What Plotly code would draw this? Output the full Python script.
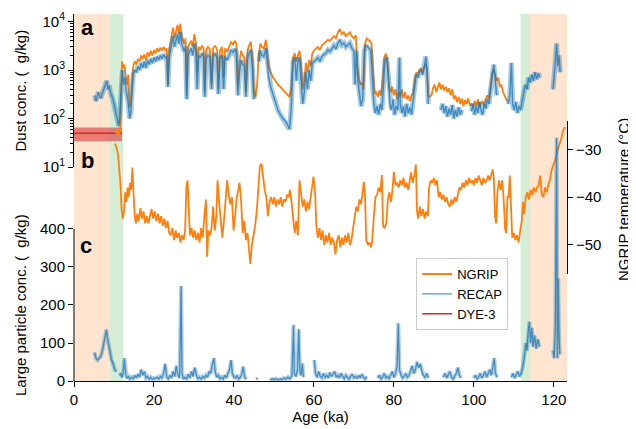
import plotly.graph_objects as go

# ---------------- data ----------------
ngrip_dust_age = [10.4, 10.7, 11.0, 11.3, 11.6, 11.8, 12.0, 12.3, 12.6, 13.0, 13.3, 13.6, 13.9, 14.2, 14.5, 14.8, 15.2, 15.6, 16.0, 16.4, 16.8, 17.2, 17.6, 18.0, 18.4, 18.8, 19.2, 19.6, 20.0, 20.4, 20.8, 21.2, 21.6, 22.0, 22.4, 22.8, 23.2, 23.5, 23.8, 24.1, 24.4, 24.8, 25.1, 25.5, 25.9, 26.2, 26.6, 26.9, 27.3, 27.6, 27.9, 28.2, 28.5, 28.9, 29.3, 29.7, 30.1, 30.5, 30.8, 31.2, 31.6, 32.0, 32.4, 32.7, 33.0, 33.5, 34.0, 34.4, 34.8, 35.3, 35.8, 36.1, 36.5, 37.0, 37.4, 37.8, 38.3, 38.8, 39.3, 39.8, 40.2, 40.6, 41.0, 41.4, 41.8, 42.2, 42.6, 43.0, 43.4, 43.8, 44.2, 44.6, 45.0, 45.4, 45.8, 46.2, 46.6, 47.0, 47.5, 48.0, 48.3, 48.7, 49.2, 49.8, 50.4, 51.0, 51.6, 52.2, 52.8, 53.4, 53.9, 54.3, 54.8, 55.2, 55.6, 56.0, 56.4, 56.8, 57.2, 57.6, 58.0, 58.4, 58.8, 59.2, 59.6, 60.0, 60.5, 61.0, 61.5, 62.0, 62.5, 63.0, 63.5, 64.0, 64.5, 65.0, 65.5, 66.0, 66.5, 67.0, 67.5, 68.0, 68.5, 69.0, 69.5, 70.0, 70.5, 70.8, 71.2, 71.6, 72.0, 72.4, 72.8, 73.2, 73.6, 74.0, 74.4, 74.8, 75.2, 75.6, 76.0, 76.4, 76.8, 77.2, 77.6, 78.0, 78.4, 78.8, 79.2, 79.6, 80.0, 80.4, 80.8, 81.2, 81.6, 82.0, 82.4, 82.8, 83.2, 83.6, 84.0, 84.4, 84.8, 85.2, 85.6, 86.0, 86.4, 86.8, 87.2, 87.6, 88.0, 88.3, 88.6, 89.0, 89.4, 89.8, 90.2, 90.6, 91.0, 91.4, 91.8, 92.2, 92.6, 93.0, 93.4, 93.8, 94.2, 94.6, 95.0, 95.4, 95.8, 96.2, 96.6, 97.0, 97.4, 97.8, 98.2, 98.6, 99.0, 99.4, 99.8, 100.2, 100.6, 101.0, 101.4, 101.8, 102.2, 102.6, 103.0, 103.4, 103.8, 104.2, 104.6, 105.0, 105.3, 105.7, 106.1, 106.5, 106.9, 107.3, 107.7, 108.1, 108.5]
ngrip_dust = [55, 48, 62, 45, 70, 300, 1500, 1100, 1300, 700, 500, 800, 170, 200, 600, 1200, 1500, 1300, 1700, 1500, 2000, 1700, 2100, 1600, 2300, 1900, 2500, 2000, 2600, 2200, 2800, 2400, 2900, 2500, 3000, 2600, 2800, 500, 2600, 3500, 5000, 7500, 4500, 6000, 8500, 5500, 9000, 5000, 4000, 3500, 4500, 300, 3000, 3500, 4000, 3000, 5500, 3500, 900, 3000, 2600, 3200, 2800, 350, 2500, 3000, 2700, 500, 2800, 3200, 2600, 400, 2500, 3000, 700, 2800, 2400, 3000, 3800, 3400, 4000, 3500, 450, 1500, 2500, 2000, 1800, 350, 2600, 3200, 3800, 2000, 350, 280, 500, 2000, 3500, 3000, 2800, 4200, 2500, 1200, 900, 700, 600, 500, 450, 400, 350, 320, 280, 400, 1800, 2200, 1500, 2000, 2500, 1200, 400, 600, 1400, 900, 1600, 1200, 2200, 2500, 2700, 3000, 2600, 3200, 3500, 3800, 4200, 4000, 4500, 5000, 4500, 6000, 7000, 5500, 6000, 5000, 5500, 6000, 5000, 4500, 5200, 1500, 700, 500, 550, 400, 3500, 4500, 4200, 4000, 3500, 800, 330, 350, 280, 380, 300, 600, 1800, 2200, 1500, 450, 350, 450, 300, 400, 250, 350, 280, 400, 260, 350, 250, 300, 230, 300, 330, 600, 900, 800, 1000, 1100, 900, 1200, 1300, 1000, 300, 280, 300, 420, 500, 350, 450, 550, 400, 500, 380, 450, 350, 420, 300, 400, 250, 300, 220, 280, 200, 260, 180, 240, 200, 260, 190, 200, 170, 230, 180, 250, 170, 210, 230, 180, 260, 300, 250, 500, 900, 1000, 800, 600, 700, 450, 500, 350, 300, 250, 230]

recap_dust_age = [5.2, 5.5, 5.8, 6.1, 6.4, 6.7, 7.0, 7.3, 7.6, 7.9, 8.2, 8.5, 8.8, 9.1, 9.4, 9.7, 10.0, 10.3, 10.6, 10.9, 11.2, 11.5, 11.8, 12.1, 12.4, 12.7, 13.0, 13.3, 13.6, 13.9, 14.2, 14.5, 14.8, 15.2, 15.6, 16.0, 16.4, 16.8, 17.2, 17.6, 18.0, 18.4, 18.8, 19.2, 19.6, 20.0, 20.4, 20.8, 21.2, 21.6, 22.0, 22.4, 22.8, 23.2, 23.5, 23.8, 24.1, 24.4, 24.8, 25.1, 25.5, 25.9, 26.2, 26.6, 26.9, 27.3, 27.6, 27.9, 28.2, 28.5, 28.9, 29.3, 29.7, 30.1, 30.5, 30.8, 31.2, 31.6, 32.0, 32.4, 32.7, 33.0, 33.5, 34.0, 34.4, 34.8, 35.3, 35.8, 36.1, 36.5, 37.0, 37.4, 37.8, 38.3, 38.8, 39.3, 39.8, 40.2, 40.6, 41.0, 41.4, 41.8, 42.2, 42.6, 43.0, 43.4, 43.8, 44.2, 44.6, 45.0, 45.3, 45.7, 46.0, 46.3, 46.6, 47.0, 47.5, 48.0, 48.3, 48.7, 49.2, 49.8, 50.4, 51.0, 51.6, 52.2, 52.8, 53.4, 53.9, 54.3, 54.8, 55.2, 55.6, 56.0, 56.4, 56.8, 57.2, 57.6, 58.0, 58.4, 58.8, 59.2, 59.6, 60.0, 60.5, 61.0, 61.5, 62.0, 62.5, 63.0, 63.5, 64.0, 64.5, 65.0, 65.5, 66.0, 66.5, 67.0, 67.5, 68.0, 68.5, 69.0, 69.5, 70.0, 70.3, 70.6, 71.0, 71.4, 71.8, 72.2, 72.6, 73.0, 73.4, 73.8, 74.2, 74.6, 75.0, 75.4, 75.8, 76.2, 76.6, 77.0, 77.4, 77.8, 78.2, 78.6, 79.0, 79.4, 79.8, 80.2, 80.6, 81.0, 81.4, 81.6, 82.0, 82.4, 82.8, 83.2, 83.6, 84.0, 84.4, 84.8, 85.2, 85.6, 86.0, 86.4, 86.8, 87.2, 87.6, 88.0, 88.3, 88.6, 88.8, 91.8, 92.2, 92.6, 93.0, 93.4, 93.8, 94.2, 94.6, 95.0, 95.4, 95.8, 96.2, 96.6, 97.0, 97.3, 99.4, 99.8, 100.2, 100.6, 101.0, 101.4, 101.8, 102.2, 102.6, 103.0, 103.4, 103.8, 104.2, 104.6, 105.0, 105.3, 105.7, 105.9, 108.6, 109.0, 109.4, 109.7, 110.1, 110.5, 110.9, 111.3, 111.7, 112.1, 112.5, 112.9, 113.3, 113.7, 114.1, 114.5, 114.9, 115.3, 115.7, 116.1, 116.5, 116.7, 119.8, 120.1, 120.4, 120.7, 121.0, 121.3, 121.6]
recap_dust = [300, 230, 280, 350, 300, 260, 320, 380, 450, 520, 600, 400, 480, 350, 300, 260, 200, 150, 120, 80, 70, 140, 450, 1000, 500, 700, 400, 300, 200, 100, 130, 350, 800, 1000, 900, 1200, 1000, 1400, 1100, 1500, 1100, 1600, 1300, 1700, 1400, 1800, 1500, 1900, 1600, 2000, 1700, 2100, 1800, 1900, 450, 1800, 2500, 3500, 5000, 3000, 4000, 5500, 3500, 6000, 3500, 2800, 2400, 3000, 250, 2000, 2500, 2800, 2000, 3500, 2400, 400, 2000, 1800, 2200, 1900, 280, 1700, 2000, 1800, 400, 1900, 2200, 1700, 320, 1700, 2000, 400, 1900, 1600, 2000, 2600, 2300, 2700, 2400, 300, 900, 1600, 1300, 1200, 280, 1700, 2200, 2600, 1200, 250, None, 170, None, 1500, 2500, 2000, 1900, 2800, 1600, 700, 450, 300, 200, 150, 120, 100, 90, 75, 60, 150, 1500, 1800, 600, 1500, 1800, 500, 200, 350, 900, 400, 1000, 600, 1400, 1500, 1600, 1800, 1500, 1900, 2100, 2200, 2600, 2400, 2800, 3200, 2700, 3600, 4200, 3300, 3600, 3000, 3300, 3600, 2800, 2500, 500, 2500, 600, 300, 180, 250, 2500, 3200, 3000, 2800, 2500, 500, 200, 130, 180, 120, 200, 150, 500, 1600, 1800, 800, 200, 150, 250, 120, 180, 150, 1800, 200, 130, 180, 110, 200, 130, 170, 120, 220, 500, 800, 700, 900, 1000, 800, 1100, 1900, 900, 200, None, 150, 200, 130, 180, 110, 160, 120, 190, 100, 150, 110, 170, 120, 150, None, 140, 200, 120, 180, 130, 220, 150, 120, 200, 160, 250, 200, 400, 800, 1300, 700, 300, None, 200, 300, 1400, 200, 150, 220, 130, 180, 150, 250, 350, 500, 400, 700, 550, 800, 600, 900, 650, 850, 700, None, 400, 700, 1500, 3500, 1200, 2000, 900]

ngrip_temp_age = [10.2, 10.6, 11.0, 11.3, 11.6, 11.9, 12.2, 12.5, 12.8, 13.1, 13.4, 13.7, 14.0, 14.3, 14.6, 14.9, 15.2, 15.5, 15.8, 16.2, 16.6, 17.0, 17.4, 17.8, 18.2, 18.6, 19.0, 19.4, 19.8, 20.2, 20.6, 21.0, 21.4, 21.8, 22.2, 22.6, 23.0, 23.4, 23.8, 24.2, 24.6, 25.0, 25.4, 25.8, 26.2, 26.6, 27.0, 27.4, 27.8, 28.1, 28.4, 28.7, 29.0, 29.4, 29.8, 30.2, 30.6, 31.0, 31.4, 31.8, 32.2, 32.6, 33.0, 33.3, 33.6, 34.0, 34.4, 34.8, 35.2, 35.6, 35.9, 36.3, 36.7, 37.1, 37.5, 37.9, 38.3, 38.7, 39.1, 39.5, 39.9, 40.3, 40.7, 41.1, 41.4, 41.8, 42.2, 42.6, 43.0, 43.4, 43.8, 44.1, 44.5, 44.9, 45.3, 45.7, 46.1, 46.5, 46.9, 47.3, 47.7, 48.1, 48.5, 48.9, 49.3, 49.7, 50.1, 50.5, 50.9, 51.3, 51.7, 52.1, 52.5, 52.9, 53.3, 53.7, 54.0, 54.4, 54.8, 55.2, 55.6, 56.0, 56.4, 56.8, 57.2, 57.6, 58.0, 58.4, 58.8, 59.2, 59.6, 59.9, 60.3, 60.6, 61.0, 61.4, 61.8, 62.2, 62.6, 63.0, 63.4, 63.8, 64.2, 64.6, 65.0, 65.4, 65.8, 66.2, 66.6, 67.0, 67.4, 67.8, 68.2, 68.6, 69.0, 69.4, 69.8, 70.2, 70.6, 71.0, 71.4, 71.8, 72.2, 72.5, 72.8, 73.1, 73.5, 73.9, 74.3, 74.6, 75.0, 75.4, 75.8, 76.2, 76.6, 77.0, 77.3, 77.7, 78.1, 78.5, 78.9, 79.3, 79.7, 80.0, 80.4, 80.8, 81.2, 81.6, 82.0, 82.4, 82.8, 83.2, 83.6, 84.0, 84.3, 84.7, 85.1, 85.5, 85.8, 86.1, 86.5, 86.9, 87.3, 87.7, 88.1, 88.5, 88.8, 89.2, 89.6, 90.0, 90.4, 90.8, 91.2, 91.6, 92.0, 92.4, 92.8, 93.2, 93.6, 94.0, 94.4, 94.8, 95.2, 95.6, 96.0, 96.4, 96.8, 97.2, 97.6, 98.0, 98.4, 98.8, 99.2, 99.6, 100.0, 100.4, 100.8, 101.2, 101.6, 102.0, 102.4, 102.8, 103.2, 103.6, 104.0, 104.4, 104.7, 105.0, 105.3, 105.6, 105.9, 106.3, 106.7, 107.1, 107.5, 107.8, 108.1, 108.4, 108.7, 109.0, 109.3, 109.6, 110.0, 110.4, 110.8, 111.2, 111.6, 112.0, 112.3, 112.6, 113.0, 113.4, 113.8, 114.2, 114.6, 115.0, 115.4, 115.8, 116.2, 116.6, 117.0, 117.4, 117.8, 118.2, 118.6, 119.0, 119.4, 119.8, 120.2, 120.6, 121.0, 121.4, 121.8, 122.2, 122.6, 123.0]
ngrip_temp = [-28.8, -29.5, -31.0, -33.5, -37.0, -42.5, -44.5, -43.0, -39.0, -41.0, -38.0, -40.0, -37.0, -38.5, -33.8, -39.5, -44.0, -45.5, -43.5, -45.0, -42.3, -44.5, -43.0, -45.5, -44.0, -45.5, -44.0, -42.5, -44.5, -43.0, -45.0, -43.5, -45.5, -44.0, -46.0, -44.5, -46.5, -45.0, -47.5, -48.0, -46.5, -49.0, -47.0, -48.5, -47.5, -49.5, -48.0, -49.0, -47.0, -38.0, -36.5, -44.0, -48.0, -46.5, -48.5, -47.0, -49.0, -47.5, -49.5, -46.5, -48.5, -44.0, -40.5, -52.5, -47.0, -48.0, -46.5, -42.0, -47.0, -44.0, -36.5, -41.0, -45.0, -48.5, -45.0, -40.0, -36.5, -39.5, -41.5, -40.0, -47.0, -44.0, -40.0, -38.5, -37.0, -41.0, -47.5, -45.0, -49.0, -47.5, -50.5, -54.0, -50.0, -48.0, -46.0, -43.0, -38.0, -33.5, -33.0, -36.0, -38.5, -40.0, -44.0, -41.0, -40.0, -41.5, -40.0, -42.0, -40.5, -41.5, -40.0, -42.0, -40.5, -41.0, -39.5, -40.0, -38.5, -41.0, -44.0, -47.5, -45.0, -48.0, -36.5, -40.0, -42.0, -40.5, -43.0, -41.0, -42.5, -40.0, -38.0, -35.7, -39.0, -46.0, -48.5, -46.5, -49.0, -47.0, -50.0, -48.0, -49.5, -47.5, -50.0, -48.5, -49.5, -52.0, -49.0, -48.0, -50.5, -48.5, -50.0, -48.0, -49.5, -47.5, -50.0, -49.0, -46.5, -44.0, -42.0, -43.0, -40.5, -41.5, -39.0, -36.8, -40.0, -49.0, -50.0, -49.5, -50.5, -49.0, -44.0, -40.0, -39.5, -38.0, -39.0, -35.4, -46.0, -46.5, -45.5, -40.5, -39.0, -41.0, -38.0, -34.7, -37.5, -37.0, -38.0, -36.5, -37.5, -36.0, -38.0, -37.0, -38.5, -36.5, -34.8, -37.0, -35.5, -33.2, -43.0, -44.5, -42.0, -44.0, -42.5, -44.5, -43.0, -44.0, -38.0, -36.5, -37.0, -36.0, -37.5, -36.5, -40.0, -39.0, -40.5, -39.5, -41.0, -40.0, -41.5, -42.0, -40.5, -41.5, -40.0, -41.0, -39.5, -38.0, -38.5, -37.0, -38.0, -36.5, -37.5, -36.0, -37.0, -36.5, -37.5, -36.0, -37.0, -35.5, -36.5, -37.5, -36.0, -37.0, -36.5, -35.5, -36.5, -35.0, -34.2, -36.0, -44.0, -45.5, -39.0, -36.5, -38.5, -36.5, -41.0, -46.5, -47.5, -40.0, -40.0, -35.5, -43.0, -48.5, -47.5, -49.0, -48.0, -49.5, -47.0, -45.0, -41.0, -43.5, -40.0, -39.0, -40.5, -38.5, -39.5, -38.0, -39.0, -38.0, -37.5, -35.5, -39.5, -40.0, -38.0, -39.0, -37.5, -36.5, -34.5, -33.5, -32.5, -31.5, -30.0, -29.0, -28.0, -26.5, -25.5, -25.5]

recap_lp_age = [5.1, 5.5, 5.9, 6.3, 6.7, 7.1, 7.5, 7.8, 8.1, 8.4, 8.7, 9.0, 9.4, 9.8, 10.2, 10.6, 11.0, 11.4, 11.7, 12.0, 12.3, 12.6, 12.9, 13.2, 13.6, 14.0, 14.4, 14.8, 15.2, 15.6, 16.0, 16.4, 16.8, 17.2, 17.6, 18.0, 18.4, 18.8, 19.2, 19.6, 20.0, 20.4, 20.8, 21.2, 21.6, 22.0, 22.4, 22.8, 23.2, 23.6, 24.0, 24.4, 24.8, 25.2, 25.6, 26.0, 26.4, 26.8, 27.0, 27.4, 27.8, 28.2, 28.6, 29.0, 29.4, 29.8, 30.2, 30.6, 31.0, 31.4, 31.8, 32.2, 32.6, 33.0, 33.4, 33.8, 34.2, 34.6, 35.0, 35.3, 35.7, 36.1, 36.5, 36.9, 37.3, 37.7, 38.1, 38.5, 38.9, 39.3, 39.6, 40.0, 40.4, 40.8, 41.2, 41.6, 42.0, 42.3, 42.7, 43.1, 43.4, 45.6, 45.9, 46.2, 49.0, 49.5, 50.0, 50.5, 51.0, 51.5, 52.0, 52.5, 53.0, 53.5, 54.0, 54.5, 54.9, 55.1, 55.5, 55.9, 56.2, 56.5, 56.8, 57.1, 57.4, 57.6, 60.1, 60.4, 60.8, 61.2, 61.6, 62.0, 62.4, 62.8, 63.2, 63.6, 64.0, 64.4, 64.8, 65.2, 65.6, 66.0, 66.4, 66.8, 67.2, 67.6, 68.0, 68.4, 68.8, 69.2, 69.6, 70.0, 70.4, 70.8, 71.2, 71.6, 72.0, 72.4, 72.8, 73.2, 73.5, 76.0, 76.4, 76.8, 77.2, 77.6, 78.0, 78.4, 78.8, 79.2, 79.6, 80.0, 80.4, 80.8, 81.1, 81.4, 81.8, 82.2, 82.6, 83.0, 83.4, 83.8, 84.2, 84.6, 85.0, 85.4, 85.8, 86.2, 86.6, 87.0, 87.4, 87.8, 88.2, 88.6, 88.8, 92.4, 92.8, 93.2, 93.6, 94.0, 94.4, 94.8, 95.2, 95.6, 96.0, 96.4, 96.8, 97.0, 100.0, 100.4, 100.8, 101.2, 101.6, 102.0, 102.4, 102.8, 103.2, 103.6, 104.0, 104.4, 104.8, 105.1, 105.4, 105.8, 106.0, 109.4, 109.8, 110.2, 110.6, 111.0, 111.4, 111.8, 112.2, 112.6, 113.0, 113.3, 113.6, 113.9, 114.2, 114.5, 114.8, 115.2, 115.6, 116.0, 116.4, 116.6, 119.8, 120.1, 120.4, 120.7, 120.9, 121.1, 121.3, 121.5]
recap_lp = [75, 60, 55, 60, 65, 80, 100, 120, 135, 110, 90, 75, 55, 45, 30, 25, None, 15, 20, 10, 20, 60, 20, 8, 12, 5, 10, 6, 15, 8, 18, 10, 30, 15, 25, 8, 12, 5, 10, 4, 8, 6, 10, 5, 12, 8, 20, 45, 10, 5, 15, 8, 25, 12, 40, 15, 8, 250, 20, 5, 10, 6, 18, 8, 25, 12, 35, 15, 6, 10, 5, 12, 8, 15, 10, 25, 20, 45, 60, 25, 10, 15, 6, 10, 5, 15, 8, 20, 30, 55, 20, 10, 8, 15, 5, 10, 20, 38, 10, 5, None, 5, 8, None, 3, 5, 4, 6, 3, 5, 4, 8, 5, 10, 6, 15, 147, 20, 12, 30, 136, 25, 15, 46, 10, None, 55, 20, 10, 25, 12, 8, 20, 10, 15, 8, 22, 12, 18, 25, 10, 15, 8, 20, 12, 6, 15, 10, 5, 12, 18, 8, 12, 6, 15, 8, 18, 10, 5, 12, None, 8, 15, 5, 10, 20, 8, 12, 6, 15, 25, 10, 18, 40, 152, 30, 15, 8, 12, 20, 10, 15, 25, 40, 20, 30, 50, 35, 45, 25, 15, 10, 20, 8, None, 10, 20, 8, 15, 25, 10, 5, 12, 20, 35, 15, 8, None, 8, 15, 5, 10, 20, 8, 15, 25, 10, 20, 30, 15, 45, 60, 20, 10, None, 10, 20, 8, 15, 25, 12, 20, 35, 60, 100, 80, 130, 156, 100, 140, 90, 120, 85, 110, 90, None, 80, 60, 150, 640, 60, 270, 120, 70]

dye3_age = [0, 12]
dye3_dust = [50, 50]
dye3_low = [34, 34]
dye3_high = [65, 65]

peach_periods = [(0.0, 9.0), (114.1, 123.3)]
green_periods = [(9.0, 12.3), (111.7, 114.1)]

age_ticks = [0, 20, 40, 60, 80, 100, 120]
dust_ticks = [10, 100, 1000, 10000]
dust_tick_text = ["10<sup>1</sup>", "10<sup>2</sup>", "10<sup>3</sup>", "10<sup>4</sup>"]
dust_minor_ticks = [20, 30, 40, 50, 60, 70, 80, 90, 200, 300, 400, 500, 600, 700, 800, 900,
                    2000, 3000, 4000, 5000, 6000, 7000, 8000, 9000, 20000]
temp_ticks = [-30, -40, -50]
lp_ticks = [0, 100, 200, 300, 400]

# ---------------- styling ----------------
ORANGE = "#ff7f0e"
BLUE = "#1f77b4"
RED = "#d62728"
FONT = "Liberation Sans, Arial, Helvetica, sans-serif"
FS = 15

X_MAX = 123.3
DOM_A = [0.583, 1.0]
DOM_B = [0.2916, 0.7093]
LP_TOP_FRAC = 0.4142
LP_RANGE_TOP = 400 / LP_TOP_FRAC

fig = go.Figure()

# DYE-3 band + line (drawn first so NGRIP lies on top)
fig.add_trace(go.Scatter(x=dye3_age, y=dye3_low, mode="lines", showlegend=False,
                         line=dict(width=0, color=RED), xaxis="x", yaxis="y", hoverinfo="skip"))
fig.add_trace(go.Scatter(x=dye3_age, y=dye3_high, mode="lines", showlegend=False, fill="tonexty",
                         fillcolor="rgba(214,39,40,0.55)", line=dict(width=0, color=RED),
                         xaxis="x", yaxis="y", hoverinfo="skip"))
fig.add_trace(go.Scatter(x=dye3_age, y=dye3_dust, mode="lines", name="DYE-3", legendrank=3,
                         line=dict(color=RED, width=1.5), xaxis="x", yaxis="y"))

fig.add_trace(go.Scatter(x=ngrip_dust_age, y=ngrip_dust, mode="lines", name="NGRIP", legendrank=1,
                         line=dict(color=ORANGE, width=1.8), xaxis="x", yaxis="y"))
fig.add_trace(go.Scatter(x=recap_dust_age, y=recap_dust, mode="lines", showlegend=False,
                         line=dict(color="rgba(31,119,180,0.40)", width=5), xaxis="x", yaxis="y",
                         hoverinfo="skip"))
fig.add_trace(go.Scatter(x=recap_dust_age, y=recap_dust, mode="lines", name="RECAP", legendrank=2,
                         line=dict(color="rgba(31,119,180,0.75)", width=1.4), xaxis="x", yaxis="y"))

fig.add_trace(go.Scatter(x=ngrip_temp_age, y=ngrip_temp, mode="lines", showlegend=False,
                         line=dict(color=ORANGE, width=1.8), xaxis="x", yaxis="y2"))

fig.add_trace(go.Scatter(x=recap_lp_age, y=recap_lp, mode="lines", showlegend=False,
                         line=dict(color="rgba(31,119,180,0.35)", width=4), xaxis="x", yaxis="y3",
                         hoverinfo="skip"))
fig.add_trace(go.Scatter(x=recap_lp_age, y=recap_lp, mode="lines", showlegend=False,
                         line=dict(color="rgba(31,119,180,0.75)", width=1.3), xaxis="x", yaxis="y3"))

shapes = []
for a0, a1 in peach_periods:
    shapes.append(dict(type="rect", xref="x", yref="paper", x0=a0, x1=a1, y0=0, y1=1,
                       fillcolor="rgba(255,127,14,0.2)", line=dict(width=0), layer="below"))
for a0, a1 in green_periods:
    shapes.append(dict(type="rect", xref="x", yref="paper", x0=a0, x1=a1, y0=0, y1=1,
                       fillcolor="rgba(44,160,44,0.2)", line=dict(width=0), layer="below"))
shapes.append(dict(type="line", xref="paper", yref="y3", x0=0, x1=0, y0=0, y1=400,
                   line=dict(color="black", width=1)))

axis_common = dict(showgrid=False, zeroline=False, ticks="outside", ticklen=5, tickwidth=1,
                   tickcolor="black", linecolor="black", linewidth=1, automargin=False,
                   tickfont=dict(family=FONT, size=FS, color="black"))

annotations = [
    dict(text="Dust conc. (  g/kg)", x=-0.1095, y=0.7916, xref="paper", yref="paper",
         textangle=-90, showarrow=False, xanchor="center", yanchor="middle",
         font=dict(family=FONT, size=FS, color="black")),
    dict(text="Large particle conc. (  g/kg)", x=-0.1095, y=0.207, xref="paper", yref="paper",
         textangle=-90, showarrow=False, xanchor="center", yanchor="middle",
         font=dict(family=FONT, size=FS, color="black")),
    dict(text="NGRIP temperature (°C)", x=1.1136, y=0.493, xref="paper", yref="paper",
         textangle=-90, showarrow=False, xanchor="center", yanchor="middle",
         font=dict(family=FONT, size=FS, color="black")),
    dict(text="<b>a</b>", x=0.0264, y=0.964, xref="paper", yref="paper", showarrow=False,
         xanchor="center", yanchor="middle", font=dict(family=FONT, size=22, color="black")),
    dict(text="<b>b</b>", x=0.0264, y=0.602, xref="paper", yref="paper", showarrow=False,
         xanchor="center", yanchor="middle", font=dict(family=FONT, size=22, color="black")),
    dict(text="<b>c</b>", x=0.0244, y=0.370, xref="paper", yref="paper", showarrow=False,
         xanchor="center", yanchor="middle", font=dict(family=FONT, size=22, color="black")),
]

# the page adds an 8 px body margin, so the figure is laid out 8 px up/left
fig.update_layout(
    width=636, height=429,
    margin=dict(l=66, r=77, t=6, b=56, autoexpand=False),
    paper_bgcolor="white", plot_bgcolor="rgba(0,0,0,0)",
    font=dict(family=FONT, size=FS, color="black"),
    xaxis=dict(domain=[0, 1], range=[0, X_MAX], anchor="y3", tickvals=age_ticks,
               showline=True, title=dict(text="Age (ka)", font=dict(family=FONT, size=FS), standoff=0),
               **axis_common),
    yaxis=dict(domain=DOM_A, type="log", range=[1, 4.155], anchor="x", side="left",
               tickvals=dust_ticks, ticktext=dust_tick_text, showline=True,
               minor=dict(ticks="outside", ticklen=3, tickcolor="black", tickwidth=1,
                          tickvals=dust_minor_ticks, showgrid=False),
               **axis_common),
    yaxis2=dict(domain=DOM_B, range=[-56.1, -24], anchor="x", side="right",
                tickvals=temp_ticks, showline=True, **axis_common),
    yaxis3=dict(domain=[0, 1], range=[0, LP_RANGE_TOP], anchor="x", side="left",
                tickvals=lp_ticks, showline=False, **axis_common),
    shapes=shapes,
    annotations=annotations,
    legend=dict(x=0.694, y=0.335, xanchor="left", yanchor="top", traceorder="normal",
                bgcolor="rgba(255,255,255,0.85)", bordercolor="#cccccc", borderwidth=1,
                font=dict(family=FONT, size=13, color="black"), itemwidth=30,
                tracegroupgap=0),
    showlegend=True,
)

fig.write_html("out.html")
